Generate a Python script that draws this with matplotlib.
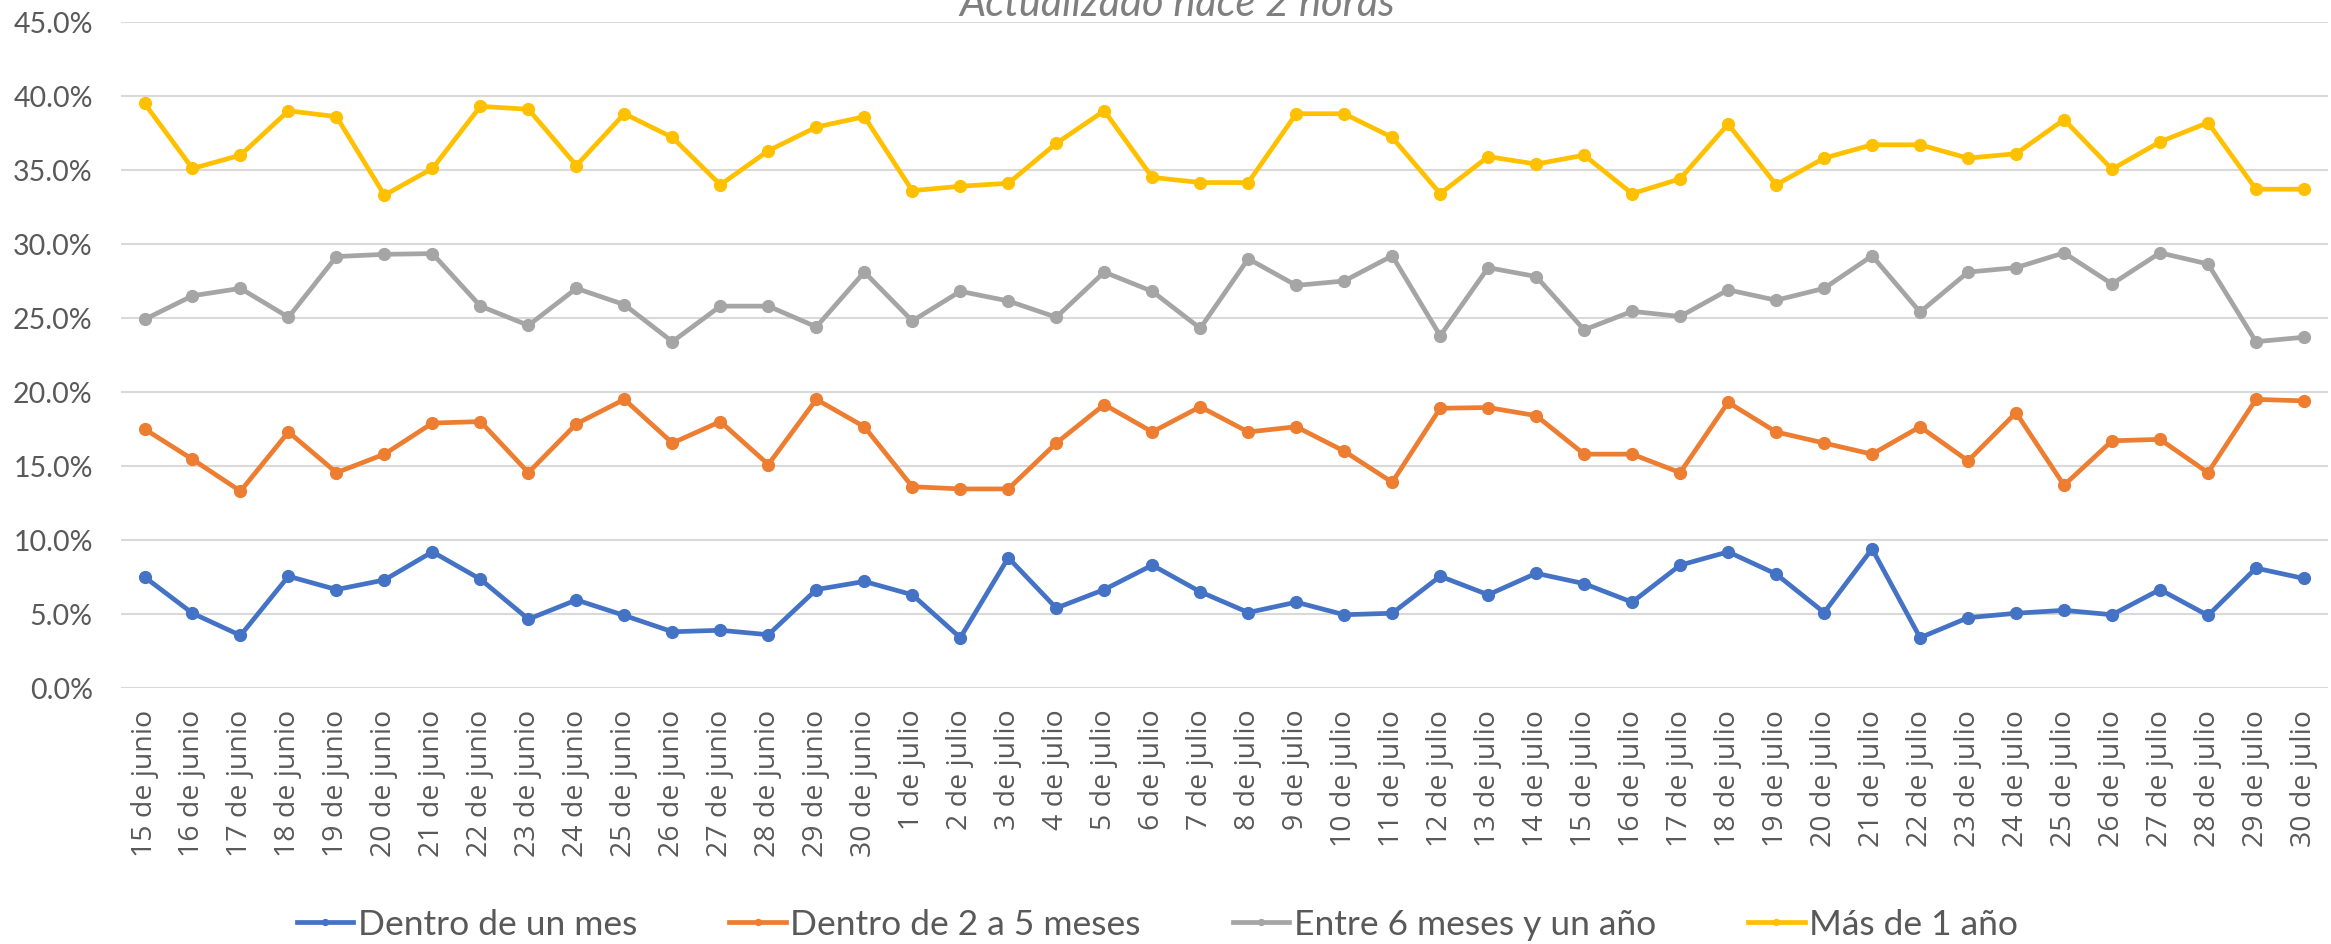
import numpy as np
import matplotlib
matplotlib.use('Agg')
import matplotlib.pyplot as plt
from matplotlib.ticker import PercentFormatter

# Fechas (15 de junio a 30 de julio)
fechas = [f'{d} de junio' for d in range(15, 31)] + [f'{d} de julio' for d in range(1, 31)]

# Porcentajes por grupo
dentro_un_mes = [7.5, 5.05, 3.55, 7.55, 6.65, 7.3, 9.2, 7.35, 4.65, 5.95, 4.9, 3.8, 3.9, 3.6,
                 6.65, 7.2, 6.3, 3.4, 8.8, 5.4, 6.65, 8.3, 6.5, 5.1, 5.8, 4.95, 5.05, 7.55, 6.3, 7.75,
                 7.05, 5.8, 8.3, 9.2, 7.7, 5.1, 9.4, 3.4, 4.75, 5.05, 5.25, 4.95, 6.65, 4.9, 8.1, 7.4]
dentro_2_5 = [17.5, 15.45, 13.3, 17.3, 14.55, 15.8, 17.9, 18.0, 14.55, 17.85, 19.5, 16.55, 18.0, 15.1,
              19.5, 17.65, 13.6, 13.45, 13.45, 16.55, 19.15, 17.3, 19.0, 17.3, 17.65, 16.0, 13.9, 18.9, 18.95, 18.4,
              15.8, 15.8, 14.55, 19.3, 17.3, 16.55, 15.8, 17.65, 15.35, 18.6, 13.7, 16.7, 16.8, 14.55, 19.5, 19.4]
entre_6_12 = [24.9, 26.5, 27.0, 25.05, 29.15, 29.3, 29.35, 25.8, 24.5, 27.0, 25.9, 23.4, 25.8, 25.8,
              24.4, 28.1, 24.8, 26.8, 26.15, 25.05, 28.1, 26.8, 24.3, 29.0, 27.2, 27.5, 29.2, 23.8, 28.4, 27.8,
              24.2, 25.45, 25.1, 26.9, 26.2, 27.0, 29.2, 25.4, 28.1, 28.4, 29.4, 27.3, 29.4, 28.65, 23.4, 23.7]
mas_1_anio = [39.5, 35.1, 36.0, 39.0, 38.6, 33.3, 35.1, 39.3, 39.1, 35.3, 38.8, 37.2, 34.0, 36.3,
              37.9, 38.6, 33.6, 33.9, 34.1, 36.8, 39.0, 34.5, 34.15, 34.15, 38.8, 38.8, 37.2, 33.4, 35.9, 35.4,
              36.0, 33.4, 34.4, 38.1, 34.0, 35.8, 36.7, 36.7, 35.8, 36.1, 38.4, 35.05, 36.9, 38.2, 33.7, 33.7]

series = [
    ('Dentro de un mes', dentro_un_mes, '#4472C4'),
    ('Dentro de 2 a 5 meses', dentro_2_5, '#ED7D31'),
    ('Entre 6 meses y un año', entre_6_12, '#A5A5A5'),
    ('Más de 1 año', mas_1_anio, '#FFC000'),
]

gris = '#595959'

fig = plt.figure(figsize=(23.31, 9.45), dpi=100)
ax = fig.add_axes([0.0517, 0.2709, 0.947, 0.7048])

x = np.arange(len(fechas))
for nombre, valores, color in series:
    ax.plot(x, valores, color=color, lw=3.4, marker='o', markersize=8.5,
            label=nombre, solid_joinstyle='round')

ax.set_xlim(-0.5, len(fechas) - 0.5)
ax.set_ylim(0, 45)
ax.set_yticks(np.arange(0, 46, 5))
ax.yaxis.set_major_formatter(PercentFormatter(100, decimals=1))
ax.grid(axis='y', color='#D9D9D9', lw=1.5)
ax.set_axisbelow(True)
for s in ax.spines.values():
    s.set_visible(False)

ax.set_xticks(x)
ax.set_xticklabels(fechas, rotation=90, family='Open Sans', fontsize=20.5, color=gris)
ax.tick_params(axis='x', length=0, pad=15)
ax.tick_params(axis='y', length=0, pad=20, labelcolor=gris)
for lbl in ax.get_yticklabels():
    lbl.set_family('Lato')
    lbl.set_fontsize(20.5)

fig.text(0.505, 0.983, 'Actualizado hace 2 horas', ha='center', va='baseline',
         family='Lato', style='italic', fontsize=30, color='#7F7F7F')

fig.legend(loc='center', bbox_to_anchor=(0.4965, 0.021), ncol=4, frameon=False,
           prop={'family': 'Lato', 'size': 25.5}, labelcolor=gris,
           handlelength=1.6, handletextpad=0.12, columnspacing=2.6, markerscale=0.5)

fig.savefig('out.png', dpi=100)
